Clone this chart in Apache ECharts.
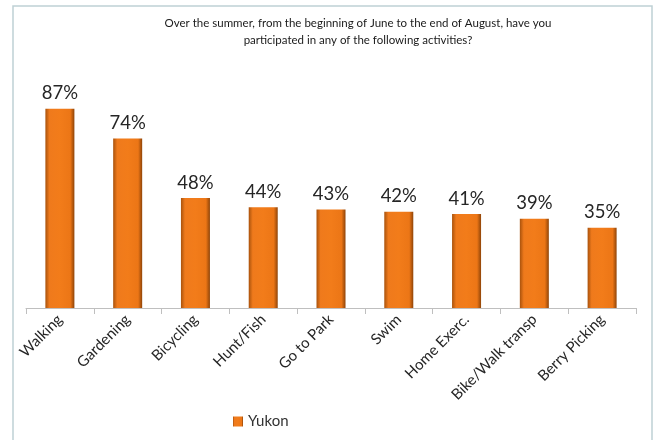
<!DOCTYPE html>
<html>
<head>
<meta charset="utf-8">
<script src="https://cdn.jsdelivr.net/npm/echarts@6/dist/echarts.min.js"></script>
<style>
  html, body { margin: 0; padding: 0; background: #ffffff; }
  #chart { width: 659px; height: 440px; }
</style>
</head>
<body>
<div id="chart"></div>
<script>
// Summer activity participation, Yukon
const categories = ['Walking', 'Gardening', 'Bicycling', 'Hunt/Fish', 'Go to Park', 'Swim', 'Home Exerc.', 'Bike/Walk transp', 'Berry Picking'];
const yukonValues = [87, 74, 48, 44, 43, 42, 41, 39, 35];
const seriesName = 'Yukon';
const titleText = 'Over the summer, from the beginning of June to the end of August, have you\nparticipated in any of the following activities?';

const fontFamily = 'Lato, "Open Sans", sans-serif';

const barFill = new echarts.graphic.LinearGradient(0, 0, 1, 0, [
  { offset: 0, color: '#a9520c' },
  { offset: 0.14, color: '#ef7a1c' },
  { offset: 0.5, color: '#f27c1a' },
  { offset: 0.86, color: '#ec7616' },
  { offset: 1, color: '#8f4408' }
]);

const chart = echarts.init(document.getElementById('chart'), null, { renderer: 'canvas' });

chart.setOption({
  backgroundColor: '#ffffff',
  animation: false,
  graphic: [{
    type: 'rect',
    shape: { x: 13, y: 6, width: 639, height: 450 },
    style: { fill: 'rgba(0,0,0,0)', stroke: '#bfd1d5', lineWidth: 1.5 },
    z: -1
  }],
  title: {
    text: titleText,
    left: 353,
    textAlign: 'center',
    top: 10,
    textStyle: {
      fontFamily: fontFamily,
      fontSize: 11.5,
      fontWeight: 'normal',
      color: '#1a1a1a',
      lineHeight: 17
    }
  },
  legend: {
    data: [seriesName],
    left: 228,
    top: 409,
    itemWidth: 10,
    itemHeight: 10,
    itemGap: 4,
    icon: 'rect',
    textStyle: { fontFamily: fontFamily, fontSize: 15, color: '#333' }
  },
  grid: { left: 26, right: 23, top: 79, bottom: 132 },
  xAxis: {
    type: 'category',
    data: categories,
    axisLine: { lineStyle: { color: '#bfbfbf', width: 1 } },
    axisTick: { show: true, length: 6, lineStyle: { color: '#bfbfbf' } },
    axisLabel: {
      rotate: 45,
      interval: 0,
      margin: 9,
      fontFamily: fontFamily,
      fontSize: 15,
      color: '#262626'
    }
  },
  yAxis: {
    type: 'value',
    min: 0,
    max: 100,
    show: false,
    splitLine: { show: false }
  },
  series: [{
    name: seriesName,
    type: 'bar',
    data: yukonValues,
    barWidth: 29,
    itemStyle: { color: barFill },
    label: {
      show: true,
      position: 'top',
      distance: 6,
      formatter: '{c}%',
      fontFamily: fontFamily,
      fontSize: 18.5,
      color: '#262626'
    }
  }]
});
</script>
</body>
</html>
